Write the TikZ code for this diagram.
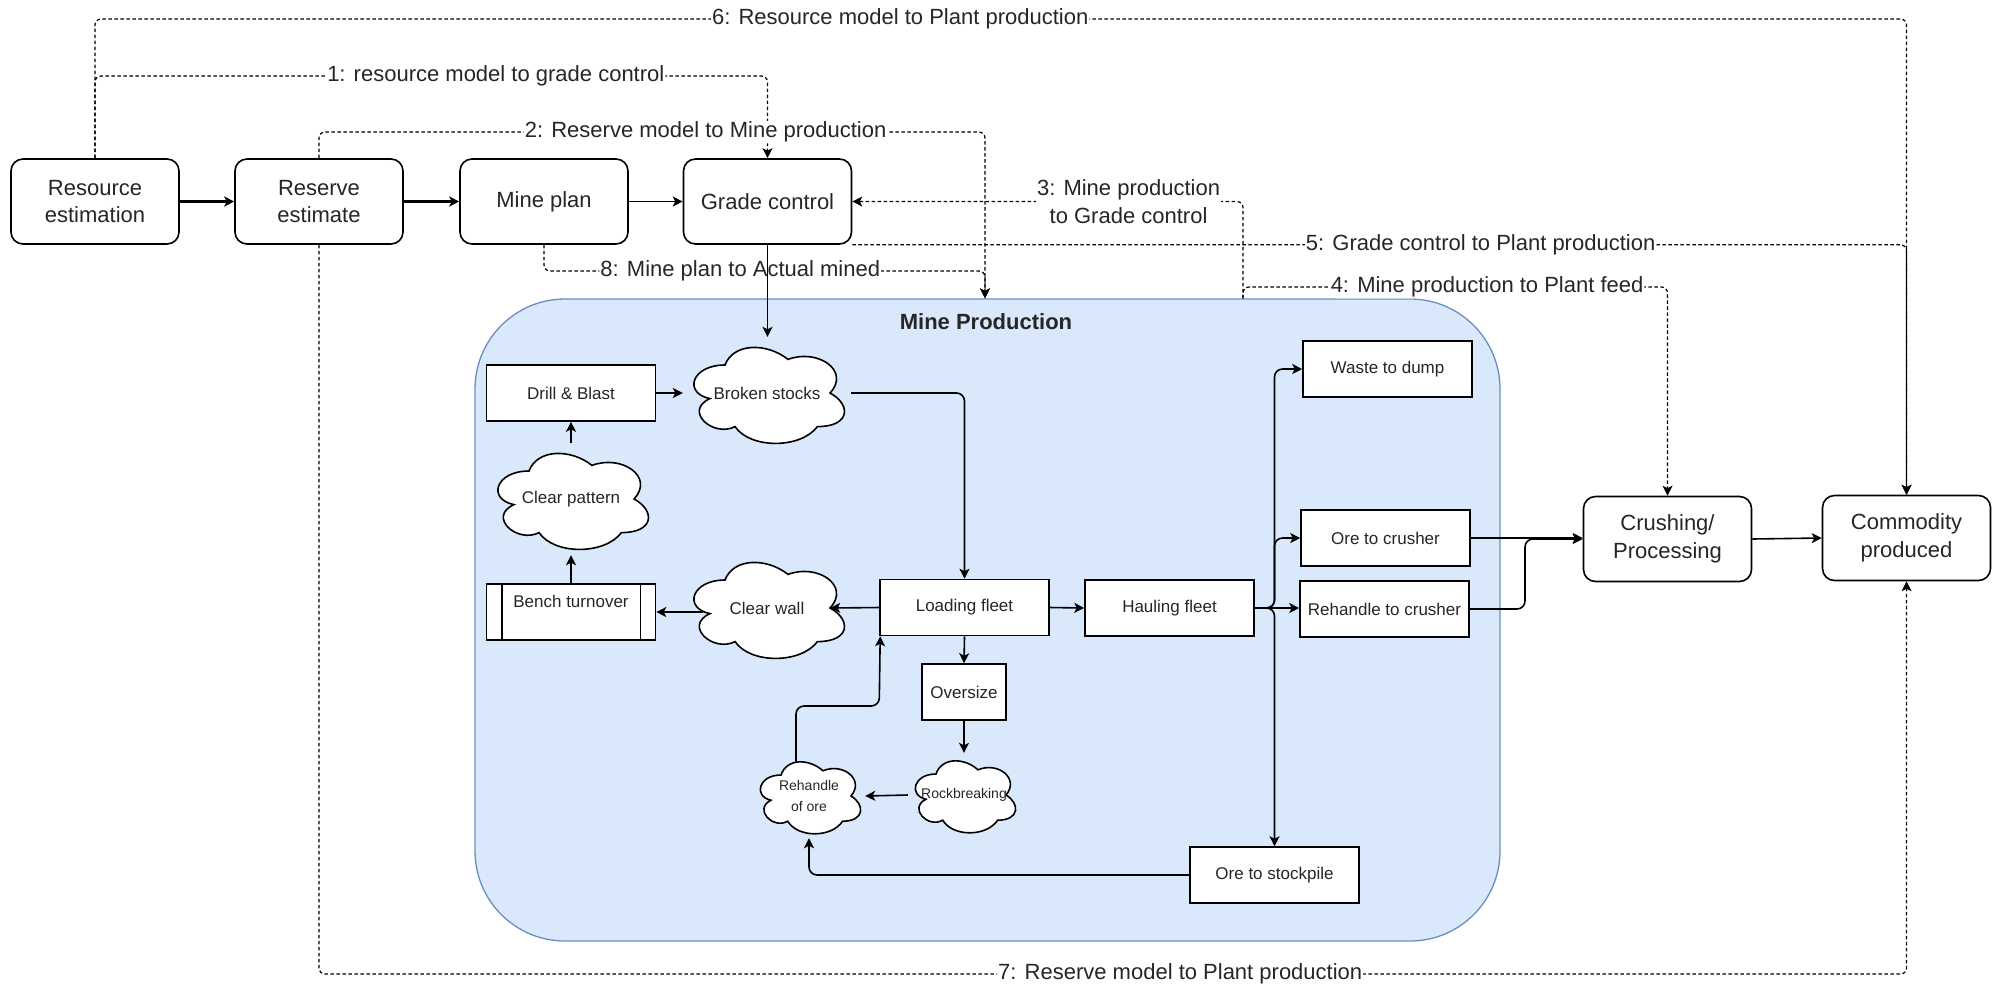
\documentclass[tikz,border=0pt]{standalone}
\usepackage{fontspec}
\setmainfont{Liberation Sans}
\usetikzlibrary{arrows.meta,calc}
\definecolor{mpfill}{HTML}{DAE8FC}
\definecolor{mpborder}{HTML}{6C8EBF}
\definecolor{txt}{HTML}{262626}
\tikzset{
  big/.style={font=\fontsize{22pt}{27pt}\selectfont},
  mid/.style={font=\fontsize{17pt}{21pt}\selectfont},
  small/.style={font=\fontsize{14pt}{21pt}\selectfont},
  every node/.style={text=txt},
  topbox/.style={draw=black, line width=1.6pt, rounded corners=12pt, minimum width=168pt, minimum height=85pt, align=center, big, fill=white, inner sep=0pt},
  inbox/.style={draw=black, line width=1.6pt, minimum width=169pt, minimum height=56pt, align=center, mid, fill=white, inner sep=0pt},
  cloudtxt/.style={inner sep=0pt, align=center},
  cloudshape/.style={draw=black, line width=1.6pt, fill=white},
  conn/.style={line width=1.6pt, -{Stealth[length=10pt,width=10pt,inset=2.5pt]}, rounded corners=8pt},
  dconn/.style={line width=1.2pt, dash pattern=on 3.5pt off 2.5pt, -{Stealth[length=10pt,width=10pt,inset=2.5pt]}, rounded corners=6pt},
  dlabel/.style={fill=white, inner sep=1pt, big, align=center},
  container/.style={draw=mpborder, fill=mpfill, line width=1.3pt, rounded corners=90pt, minimum width=1025pt, minimum height=642pt, inner sep=0pt},
}
\newcommand\mycloud[4]{%
  \draw[cloudshape, shift={(#1,#2)}, xscale=#3, yscale=#4] (0.25,0.25) .. controls (0.05,0.25) and (0,0.5) .. (0.16,0.55) .. controls (0,0.66) and (0.18,0.9) .. (0.31,0.8) .. controls (0.4,1) and (0.7,1) .. (0.8,0.8) .. controls (1,0.8) and (1,0.6) .. (0.875,0.5) .. controls (1,0.3) and (0.8,0.1) .. (0.625,0.2) .. controls (0.5,0.05) and (0.3,0.05) .. (0.25,0.25) -- cycle;}
\begin{document}
\begin{tikzpicture}[x=1pt,y=-1pt]
\useasboundingbox[fill=white] (0,0) rectangle (2001,989);

% container
\node[container] (mp) at (987.5,620) {};
\node[font=\bfseries\fontsize{22pt}{27pt}\selectfont] (mpt) at (986,322) {Mine Production};

% top row
\node[topbox] (re) at (95,201.5) {Resource\\estimation};
\node[topbox] (rs) at (319,201.5) {Reserve\\estimate};
\node[topbox] (mpl) at (544,201.5) {Mine plan};
\node[topbox] (gc) at (767.5,201.5) {Grade control};
\node[topbox, font=\fontsize{22pt}{28pt}\selectfont] (cp) at (1667.5,539) {Crushing/\\Processing};
\node[topbox, font=\fontsize{22pt}{28pt}\selectfont] (cm) at (1906.5,538) {Commodity\\produced};

% level coordinates
\coordinate (L6) at (0,19);
\coordinate (L1) at (0,76);
\coordinate (L2) at (0,132);
\coordinate (L8) at (0,271);
\coordinate (L4) at (0,287);
\coordinate (L7) at (0,974);
\coordinate (Lr) at (0,706);
\coordinate (X2) at (985,0);
\coordinate (X34) at (1243,0);
\coordinate (Xr) at (1525,0);

% dashed connectors
\draw[dconn] (re.north) -- (re.north |- L6) -- node[dlabel,pos=0.4445]{6: Resource model to Plant production} (cm.north |- L6) -- (cm.north);
\draw[dconn] (re.north) -- (re.north |- L1) -- node[dlabel,pos=0.596]{1: resource model to grade control} (gc.north |- L1) -- (gc.north);
\draw[dconn] (rs.north) -- (rs.north |- L2) -- node[dlabel,pos=0.5805]{2: Reserve model to Mine production} (X2 |- L2) -- (X2 |- mp.north);
\draw[dconn] (mpl.south) -- (mpl.south |- L8) -- node[dlabel,pos=0.445]{8: Mine plan to Actual mined} (X2 |- L8) -- (X2 |- mp.north);
\draw[dconn] (gc.south east) -- node[dlabel,pos=0.596]{5: Grade control to Plant production} (cm.north |- gc.south east) -- (cm.north);
\draw[dconn] (X34 |- mp.north) -- (X34 |- gc.east) -- node[dlabel,pos=0.293,font=\fontsize{22pt}{28pt}\selectfont]{3: Mine production\\to Grade control} (gc.east);
\draw[dconn] (X34 |- mp.north) -- (X34 |- L4) -- node[dlabel,pos=0.575]{4: Mine production to Plant feed} (cp.north |- L4) -- (cp.north);
\draw[dconn] (rs.south) -- (rs.south |- L7) -- node[dlabel,pos=0.5425]{7: Reserve model to Plant production} (cm.south |- L7) -- (cm.south);

% clouds
\mycloud{683}{337}{168}{112}
\mycloud{487}{443}{168}{112}
\mycloud{683}{552}{168}{112}
\mycloud{908}{753}{112}{84}
\mycloud{753}{754}{112}{84}
\node[cloudtxt, mid, minimum width=168pt, minimum height=112pt] (bs) at (767,393) {Broken stocks};
\node[cloudtxt, mid, minimum width=168pt, minimum height=112pt] (cpat) at (571,499) {Clear pattern};
\node[cloudtxt, mid, minimum width=168pt, minimum height=112pt] (cw) at (767,608) {Clear wall};
\node[cloudtxt, small, minimum width=112pt, minimum height=84pt] (rb) at (964,795) {Rockbreaking};
\node[cloudtxt, small, minimum width=112pt, minimum height=84pt] (ro) at (809,796) {Rehandle\\of ore};

% inner boxes
\node[inbox] (db) at (571,393) {Drill \& Blast};
\node[inbox] (bt) at (571,612) {};
\draw[line width=1.6pt] ([xshift=16pt]bt.north west) -- ([xshift=16pt]bt.south west);
\draw[line width=1.6pt] ([xshift=-16pt]bt.north east) -- ([xshift=-16pt]bt.south east);
\node[mid, inner sep=1pt] (btl) at (571,601) {Bench turnover};
\node[inbox] (lf) at (964.5,607.5) {Loading fleet};
\node[inbox, minimum width=84pt] (ov) at (964,692) {Oversize};
\node[inbox] (hf) at (1169.5,608) {Hauling fleet};
\node[inbox] (wd) at (1387.5,369) {Waste to dump};
\node[inbox] (oc) at (1385.5,538) {Ore to crusher};
\node[inbox] (rc) at (1384.5,609) {Rehandle to crusher};
\node[inbox] (os) at (1274.5,875) {Ore to stockpile};

% solid connectors
\draw[conn, line width=2.4pt] (re) -- (rs);
\draw[conn, line width=2.4pt] (rs) -- (mpl);
\draw[conn] (mpl) -- (gc);
\draw[conn] (gc.south) -- (gc.south |- bs.north);
\draw[conn] (db.east) -- (bs.west);
\draw[conn] (cpat.north) -- (db.south);
\draw[conn] (bt.north) -- (cpat.south);
\draw[conn] (bs.east) -| (lf.north);
\draw[conn] (lf.west) -- ([xshift=-21pt]cw.east);
\draw[conn] ([xshift=20pt]cw.west |- bt.east) -- (bt.east);
\draw[conn] (lf.east) -- (hf.west);
\draw[conn] (lf.south) -- (ov.north);
\draw[conn] (ov.south) -- (ov.south |- rb.north);
\draw[conn] (rb.west) -- (ro.east);
\coordinate (roTop) at ([xshift=-13pt,yshift=-8pt]ro.north);
\draw[conn] (roTop) -- (roTop |- Lr) -- (lf.south west |- Lr) -- ([xshift=1pt]lf.south west);
\draw[conn] (hf.east) -- (os.north |- hf.east) -- (os.north |- wd.west) -- (wd.west);
\draw[conn] (hf.east) -- (os.north |- hf.east) -- (os.north |- oc.west) -- (oc.west);
\draw[conn] (hf.east) -- (rc.west |- hf.east);
\draw[conn] (hf.east) -- (os.north |- hf.east) -- (os.north);
\draw[conn] (os.west) -| (ro.south);
\draw[conn] (oc.east) -- (cp.west |- oc.east);
\draw[conn] (rc.east) -- (Xr |- rc.east) -- (Xr |- cp.west) -- (cp.west);
\draw[conn] (cp.east) -- (cm.west);
\end{tikzpicture}
\end{document}
